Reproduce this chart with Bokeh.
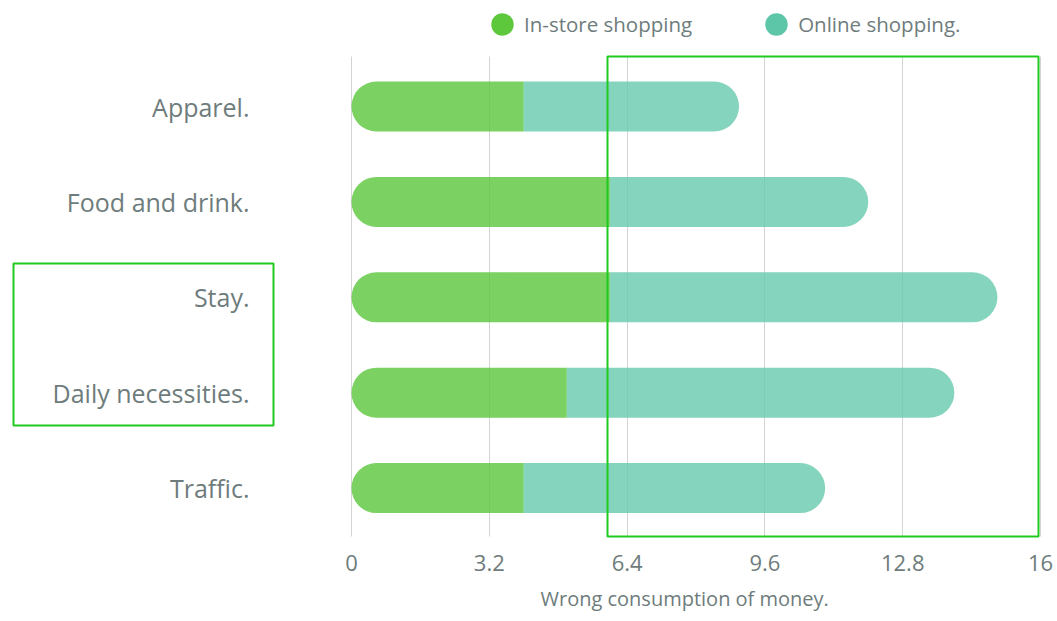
from bokeh.plotting import figure
from bokeh.models import (Range1d, FixedTicker, NumeralTickFormatter, Title,
                          Legend, LegendItem, BoxAnnotation, ColumnDataSource)
from bokeh.core.properties import value
from bokeh.embed import file_html
from bokeh.resources import INLINE

categories = ["Apparel.", "Food and drink.", "Stay.", "Daily necessities.", "Traffic."]
in_store = [4, 6, 6, 5, 4]
online = [5, 6, 9, 9, 7]
x_ticks = [0, 3.2, 6.4, 9.6, 12.8, 16]
series_names = ["In-store shopping", "Online shopping."]
axis_title = "Wrong consumption of money."

GREEN = "#5ac53b"
TEAL = "#66c9ac"
GREEN_DOT = "#5dc83c"
TEAL_DOT = "#5dc6a8"
TEXT = "#6e7c7c"
FONT = "Open Sans"
BOX = "#1ecb1e"

# layout in canvas pixels
W, H = 1057, 621
PX0, PX16 = 351, 1040           # where 0 and 16 fall
FRAME_R, FRAME_B = 1043, 538
ROW0, ROW_STEP = 106.0, 95.4    # centre of first row, row pitch
GRID_T, GRID_B = 56, 536
px_per_unit = (PX16 - PX0) / 16.0
n = len(categories)


def y_at(c):
    return (n - 1) - (c - ROW0) / ROW_STEP


pos = [n - 1 - i for i in range(n)]
totals = [a + b for a, b in zip(in_store, online)]
source = ColumnDataSource(dict(cat=categories, pos=pos, in_store=in_store,
                               online=online, total=totals))

p = figure(width=W, height=H,
           x_range=Range1d(-PX0 / px_per_unit, 16 + (FRAME_R - PX16) / px_per_unit),
           y_range=Range1d(y_at(FRAME_B), y_at(0)),
           output_backend="svg", toolbar_location=None, y_axis_location=None,
           min_border_left=0, min_border_right=W - FRAME_R,
           min_border_top=0, min_border_bottom=H - FRAME_B)

bar_h = 50 / ROW_STEP
p.hbar(y="pos", left=0, right="in_store", height=bar_h, source=source,
       fill_color=GREEN, fill_alpha=0.8, line_color=None, border_radius=(25, 0, 0, 25))
p.hbar(y="pos", left="in_store", right="total", height=bar_h, source=source,
       fill_color=TEAL, fill_alpha=0.8, line_color=None, border_radius=(0, 25, 25, 0))

# category labels
p.text(x=0, y="pos", text="cat", source=source, x_offset=-102,
       text_align="right", text_baseline="middle",
       text_font=value(FONT), text_font_size=value("25px"), text_color=TEXT)

# legend (proxy glyphs, never drawn in the frame)
nan = float("nan")
r1 = p.ellipse(x=[nan], y=[0], width=22, height=22,
               width_units="screen", height_units="screen",
               fill_color=GREEN_DOT, line_color=None)
r2 = p.ellipse(x=[nan], y=[0], width=22, height=22,
               width_units="screen", height_units="screen",
               fill_color=TEAL_DOT, line_color=None)
legend = Legend(items=[LegendItem(label=series_names[0], renderers=[r1]),
                       LegendItem(label=series_names[1], renderers=[r2])],
                orientation="horizontal", location=(488, FRAME_B - 38),
                glyph_width=28, glyph_height=28, label_standoff=8, spacing=70,
                padding=0, margin=0, border_line_color=None, background_fill_alpha=0,
                label_text_font=FONT, label_text_font_size="20.5px", label_text_color=TEXT)
p.add_layout(legend)

p.xaxis.ticker = FixedTicker(ticks=x_ticks)
p.xaxis.bounds = (x_ticks[0], x_ticks[-1])
p.xaxis.formatter = NumeralTickFormatter(format="0.[0]")
p.xaxis.major_label_text_font = FONT
p.xaxis.major_label_text_font_size = "22px"
p.xaxis.major_label_text_color = TEXT
p.xaxis.major_label_standoff = 16
p.xaxis.axis_line_color = None
p.xaxis.major_tick_line_color = None
p.xaxis.minor_tick_line_color = None
p.xaxis.major_tick_out = 0
p.xaxis.major_tick_in = 0

# x-axis title, placed under the value axis
p.add_layout(Title(text=axis_title, align="left", offset=540, standoff=18,
                   text_font=FONT, text_font_size="20px", text_font_style="normal",
                   text_color=TEXT), "below")

p.ygrid.visible = False
g = p.xgrid[0]
g.grid_line_color = "#d4d4d4"
if "cross_bounds" in g.properties():
    g.cross_bounds = (y_at(GRID_B), y_at(GRID_T))
p.outline_line_color = None

# highlight boxes
for (l, r, t, b) in [(607, 1038, 56, 536), (13, 273, 263, 425)]:
    p.add_layout(BoxAnnotation(left=l, right=r, top=t, bottom=b,
                               left_units="canvas", right_units="canvas",
                               top_units="canvas", bottom_units="canvas",
                               fill_alpha=0, line_color=BOX, line_alpha=1, line_width=2))

open("out.html", "w").write(file_html(p, INLINE))
